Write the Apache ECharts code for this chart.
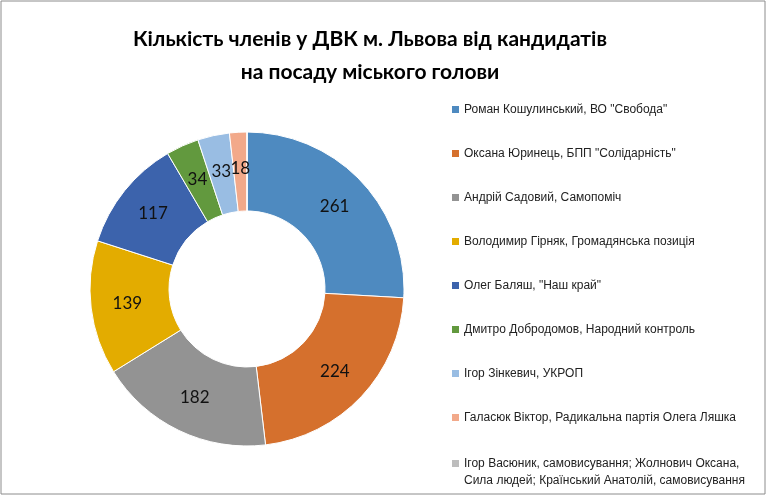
<!DOCTYPE html>
<html>
<head>
<meta charset="utf-8">
<script src="https://cdn.jsdelivr.net/npm/echarts@6/dist/echarts.min.js"></script>
<style>
html, body { margin: 0; padding: 0; background: #fff; }
#main { width: 768px; height: 495px; }
</style>
</head>
<body>
<div id="main"></div>
<script>
var names = [
    'Роман Кошулинський, ВО "Свобода"',
    'Оксана Юринець, БПП "Солідарність"',
    'Андрій Садовий, Самопоміч',
    'Володимир Гірняк, Громадянська позиція',
    'Олег Баляш, "Наш край"',
    'Дмитро Добродомов, Народний контроль',
    'Ігор Зінкевич, УКРОП',
    'Галасюк Віктор, Радикальна партія Олега Ляшка',
    'Ігор Васюник, самовисування; Жолнович Оксана, Сила людей; Країнський Анатолій, самовисування'
];
var values = [261, 224, 182, 139, 117, 34, 33, 18, 0];
var colors = ['#4e8ac0', '#d5702d', '#939393', '#e3ac00', '#3c63ac', '#62993e', '#99bde3', '#f2a98a', '#bdbdbd'];

var myChart = echarts.init(document.getElementById('main'));

var pieData = names.map(function (n, i) {
    return { name: n, value: values[i], itemStyle: { color: colors[i] } };
});

var legendText = {
    fontFamily: 'Liberation Sans',
    fontSize: 12,
    lineHeight: 17,
    color: '#222'
};

option = {
    backgroundColor: '#fff',
    animation: false,
    title: {
        text: 'Кількість членів у ДВК м. Львова від кандидатів\nна посаду міського голови',
        left: 365,
        top: 18,
        textAlign: 'center',
        textStyle: {
            fontFamily: 'Lato',
            fontWeight: 'bold',
            fontSize: 21,
            lineHeight: 33,
            color: '#000'
        }
    },
    legend: [{
        orient: 'vertical',
        left: 452,
        top: 101,
        padding: 0,
        icon: 'rect',
        itemWidth: 7,
        itemHeight: 7,
        itemGap: 27,
        itemStyle: { borderWidth: 0 },
        textStyle: legendText,
        data: names.slice(0, 8)
    }, {
        // last entry wraps onto two lines; the empty first line keeps
        // the marker level with the first line of text
        orient: 'vertical',
        left: 452,
        top: 438,
        padding: 0,
        icon: 'rect',
        itemWidth: 7,
        itemHeight: 7,
        itemStyle: { borderWidth: 0 },
        textStyle: legendText,
        formatter: function (name) {
            return '\n' + name.replace('Оксана, ', 'Оксана,\n');
        },
        data: names.slice(8)
    }],
    graphic: [{
        type: 'rect',
        shape: { x: 1, y: 1, width: 764, height: 493 },
        style: { fill: 'none', stroke: '#8c8c8c', lineWidth: 1 },
        silent: true
    }],
    series: [{
        type: 'pie',
        center: [247, 289],
        radius: [78, 157],
        startAngle: 90,
        clockwise: true,
        avoidLabelOverlap: false,
        minShowLabelAngle: 0,
        labelLayout: { hideOverlap: false },
        itemStyle: { borderColor: '#fff', borderWidth: 1 },
        label: {
            show: true,
            position: 'inside',
            fontFamily: 'Lato',
            fontSize: 17,
            color: '#111',
            formatter: function (p) {
                return p.value > 0 ? String(p.value) : '';
            }
        },
        labelLine: { show: false },
        emphasis: { disabled: true },
        data: pieData
    }]
};

myChart.setOption(option);
window.onresize = function () {
    myChart.resize();
}
</script>
</body>
</html>
